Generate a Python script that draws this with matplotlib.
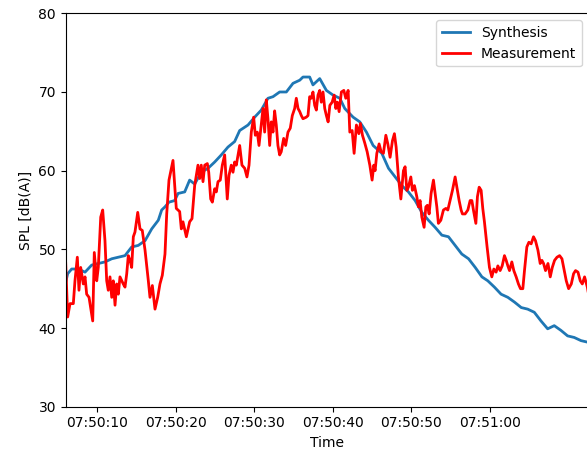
import matplotlib
matplotlib.use("Agg")
import matplotlib.pyplot as plt
import matplotlib.dates as mdates
import pandas as pd

# time in seconds after 07:50:00
synth_t = [6.0, 6.25, 6.76, 7.61, 8.46, 9.31, 10.15, 11.0, 11.86, 12.70, 13.55, 14.40,
           15.24, 16.10, 16.95, 17.79, 18.22, 18.64, 19.15, 19.88, 20.30, 21.15, 21.78,
           22.42, 23.26, 24.12, 24.97, 25.81, 26.66, 27.51, 28.15, 29.21, 30.06, 30.90,
           31.75, 32.39, 33.24, 34.09, 34.94, 35.80, 36.21, 37.06, 37.48, 38.34, 39.19,
           40.04, 40.90, 41.53, 42.59, 43.44, 44.29, 45.14, 46.25, 47.10, 47.95, 48.80,
           49.63, 50.49, 51.34, 52.18, 53.03, 53.89, 54.73, 55.58, 56.43, 57.29, 58.14,
           58.99, 59.74, 60.58, 61.43, 62.29, 63.13, 64.0, 64.82, 65.66, 66.51, 67.36,
           68.20, 69.05, 69.90, 70.74, 71.60, 72.45, 72.7]
synth_db = [45.8, 46.9, 47.5, 47.5, 47.1, 48.0, 48.2, 48.4, 48.8, 49.0, 49.2, 50.3,
            50.5, 51.1, 52.6, 53.7, 55.0, 55.4, 56.0, 56.2, 57.1, 57.3, 58.8,
            58.3, 59.8, 60.3, 61.1, 62.0, 63.0, 63.7, 65.1, 65.8, 66.8, 67.7,
            69.2, 69.4, 70.0, 70.0, 71.1, 71.5, 71.9, 71.9, 70.9, 71.7, 70.2,
            69.6, 69.2, 67.9, 66.8, 66.2, 64.9, 63.2, 62.2, 60.3, 59.2, 58.1,
            57.3, 56.2, 54.7, 53.7, 52.8, 51.8, 51.6, 50.5, 49.4, 48.8, 47.7,
            46.5, 46.0, 45.2, 44.3, 43.9, 43.3, 42.6, 42.4, 42.0, 40.9, 39.9,
            40.3, 39.7, 39.0, 38.8, 38.4, 38.2, 38.1]

meas_t = [6.0, 6.25, 6.55, 6.97, 7.18, 7.48, 7.69, 7.91, 8.24, 8.46, 8.67, 8.97, 9.44,
          9.64, 9.95, 10.15, 10.46, 10.71, 11.0, 11.22, 11.42, 11.64, 11.86, 12.06, 12.28,
          12.49, 12.70, 12.91, 13.33, 13.55, 13.77, 13.97, 14.19, 14.40, 14.61, 14.82,
          15.17, 15.46, 15.75, 16.10, 16.52, 16.73, 17.03, 17.37, 17.71, 18.0, 18.30,
          18.64, 18.86, 19.15, 19.66, 19.88, 20.08, 20.51, 20.72, 20.93, 21.36, 21.78,
          22.08, 22.42, 22.84, 23.06, 23.26, 23.48, 23.70, 24.03, 24.21, 24.46, 24.67,
          24.97, 25.17, 25.39, 25.68, 25.94, 26.24, 26.57, 26.79, 27.08, 27.30, 27.51,
          27.72, 27.94, 28.15, 28.44, 28.79, 29.08, 29.34, 29.63, 29.93, 30.14, 30.39,
          30.61, 30.90, 31.12, 31.33, 31.54, 31.75, 31.97, 32.17, 32.39, 32.6, 32.81,
          33.02, 33.24, 33.44, 33.75, 34.0, 34.30, 34.59, 34.85, 35.15, 35.36, 35.58,
          35.80, 36.0, 36.21, 36.63, 36.85, 37.06, 37.27, 37.48, 37.70, 37.91, 38.12,
          38.34, 38.54, 38.76, 38.98, 39.19, 39.41, 39.63, 39.92, 40.18, 40.39, 40.59,
          40.81, 41.10, 41.41, 41.66, 41.96, 42.17, 42.47, 42.72, 43.01, 43.32, 43.52,
          43.78, 44.08, 44.38, 44.72, 45.01, 45.23, 45.39, 45.61, 45.90, 46.16, 46.45,
          46.76, 47.01, 47.30, 47.60, 47.85, 48.07, 48.36, 48.67, 49.0, 49.21, 49.43,
          49.63, 49.94, 50.14, 50.40, 50.70, 50.91, 51.12, 51.34, 51.63, 51.85, 52.05,
          52.27, 52.52, 52.82, 53.03, 53.25, 53.45, 53.76, 54.09, 54.40, 54.65, 54.94,
          55.24, 55.58, 55.80, 56.09, 56.34, 56.51, 56.85, 57.20, 57.49, 57.71, 57.91,
          58.22, 58.42, 58.64, 58.89, 59.10, 59.31, 59.65, 59.95, 60.25, 60.51, 60.80,
          61.02, 61.31, 61.57, 61.86, 62.08, 62.29, 62.50, 62.80, 63.05, 63.35, 63.64,
          63.90, 64.20, 64.41, 64.71, 64.97, 65.26, 65.56, 65.81, 66.12, 66.41, 66.63,
          66.84, 67.09, 67.40, 67.69, 67.95, 68.24, 68.55, 68.88, 69.18, 69.44, 69.73,
          70.03, 70.37, 70.66, 70.91, 71.22, 71.51, 71.77, 72.06, 72.41, 72.70]
meas_db = [48.2, 41.4, 43.1, 43.1, 46.0, 49.0, 44.8, 47.7, 45.6, 46.5, 44.3, 43.9, 40.9,
           49.6, 46.0, 47.7, 54.1, 55.0, 51.1, 46.0, 44.8, 46.5, 43.9, 46.0, 42.9,
           45.6, 44.3, 46.5, 45.6, 45.2, 46.9, 49.2, 48.6, 47.7, 51.6, 52.2,
           54.7, 52.6, 52.4, 49.9, 46.0, 43.9, 45.4, 42.4, 43.9, 45.6, 46.7,
           49.4, 54.5, 58.8, 61.3, 58.1, 55.2, 54.8, 52.6, 53.5, 51.6, 53.5,
           53.9, 58.1, 60.7, 59.0, 60.7, 58.6, 60.7, 60.9, 59.8, 56.4, 56.0,
           57.7, 57.3, 58.6, 58.8, 60.7, 62.0, 56.4, 59.4, 60.7, 59.8, 61.1,
           60.7, 62.0, 63.2, 60.7, 60.3, 59.2, 60.7, 64.9, 66.8, 64.5, 64.9,
           63.2, 65.8, 67.9, 64.9, 69.0, 66.6, 63.2, 66.2, 64.9, 67.6, 65.8,
           63.2, 62.0, 62.4, 64.1, 63.2, 64.9, 65.4, 67.0, 67.9, 69.2, 67.9,
           67.5, 67.0, 66.6, 66.8, 67.0, 69.4, 69.2, 70.0, 68.3, 67.7, 69.6,
           70.2, 68.7, 70.0, 67.9, 67.0, 66.2, 68.3, 68.7, 69.6, 67.9, 68.7,
           67.5, 70.0, 70.2, 69.2, 70.2, 64.9, 65.1, 62.2, 65.8, 64.7, 66.0,
           64.5, 63.5, 62.4, 60.7, 58.8, 60.7, 60.0, 62.2, 63.4, 62.4, 62.2,
           64.5, 63.4, 61.7, 63.8, 64.7, 63.0, 59.2, 56.4, 60.0, 60.5, 57.5,
           57.9, 59.2, 57.5, 58.1, 56.7, 55.4, 56.2, 54.1, 52.8, 55.4, 55.6,
           54.5, 57.1, 58.8, 57.1, 55.4, 53.3, 53.7, 55.0, 55.2, 55.0, 56.2,
           57.5, 59.2, 57.9, 56.2, 55.0, 54.5, 54.5, 55.0, 56.2, 56.2, 55.0,
           53.3, 56.7, 57.9, 57.5, 55.2, 53.5, 50.3, 47.7, 46.5, 47.5, 47.1,
           47.9, 47.3, 47.9, 49.2, 48.6, 47.9, 47.3, 48.4, 47.3, 46.5, 45.6,
           45.0, 45.0, 47.3, 50.3, 50.9, 50.7, 51.6, 51.1, 49.9, 48.2, 48.6,
           48.2, 47.3, 48.2, 46.5, 47.7, 48.6, 49.0, 49.2, 48.8, 47.5, 46.0,
           45.0, 45.6, 46.9, 47.3, 47.1, 46.0, 45.6, 46.5, 45.2, 43.5]

tick_seconds = [10, 20, 30, 40, 50, 60]

base = pd.Timestamp("2021-01-01 07:50:00")
synth_time = [base + pd.Timedelta(seconds=s) for s in synth_t]
meas_time = [base + pd.Timedelta(seconds=s) for s in meas_t]
tick_time = [base + pd.Timedelta(seconds=s) for s in tick_seconds]

fig = plt.figure(figsize=(5.87, 4.55), dpi=100)
ax = fig.add_axes([65.7 / 587, 48.3 / 455, 522.8 / 587, 393.4 / 455])

ax.plot(synth_time, synth_db, color="#1f77b4", lw=2, label="Synthesis")
ax.plot(meas_time, meas_db, color="red", lw=2, label="Measurement")

ax.set_xlim(base + pd.Timedelta(seconds=6.0), base + pd.Timedelta(seconds=72.56))
ax.set_ylim(30, 80)
ax.set_xticks([mdates.date2num(t) for t in tick_time])
ax.xaxis.set_major_formatter(mdates.DateFormatter("%H:%M:%S"))
ax.set_xlabel("Time")
ax.set_ylabel("SPL [dB(A)]")
ax.legend(loc="upper right")

fig.savefig("out.png", dpi=100)
